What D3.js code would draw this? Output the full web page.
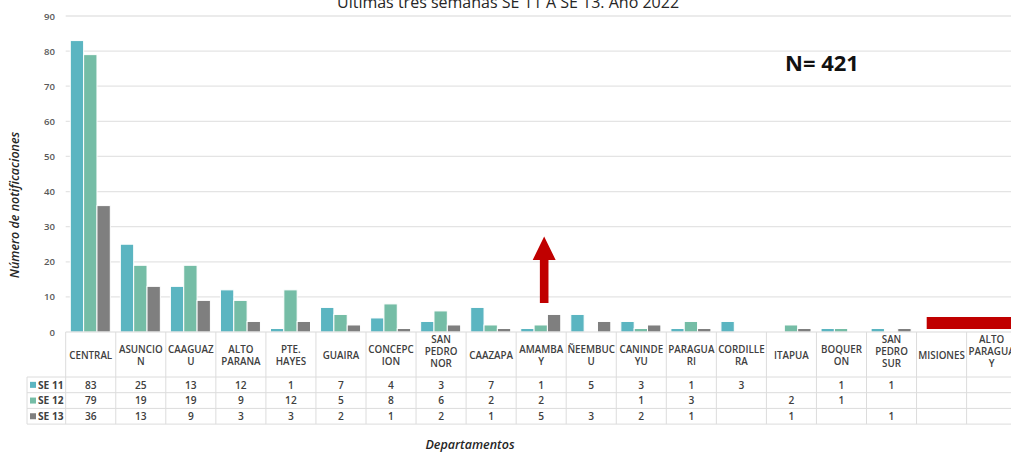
<!DOCTYPE html>
<html>
<head>
<meta charset="utf-8">
<script src="https://cdn.jsdelivr.net/npm/d3@7"></script>
<style>
  html, body { margin: 0; padding: 0; background: #fff; }
  svg { display: block; }
  text { font-family: "Open Sans", "Noto Sans", sans-serif; }
</style>
</head>
<body>
<svg id="chart" width="1011" height="452"></svg>
<script>
// Departamentos (table header labels, line-broken as in the data table)
const departamentos = [
  "CENTRAL", "ASUNCIO\nN", "CAAGUAZ\nU", "ALTO\nPARANA", "PTE.\nHAYES",
  "GUAIRA", "CONCEPC\nION", "SAN\nPEDRO\nNOR", "CAAZAPA", "AMAMBA\nY",
  "ÑEEMBUC\nU", "CANINDE\nYU", "PARAGUA\nRI", "CORDILLE\nRA", "ITAPUA",
  "BOQUER\nON", "SAN\nPEDRO\nSUR", "MISIONES", "ALTO\nPARAGUA\nY"
];
const semanas = ["SE 11", "SE 12", "SE 13"];
// Notifications per department and epidemiological week (null = no notifications)
const se11 = [83, 25, 13, 12, 1, 7, 4, 3, 7, 1, 5, 3, 1, 3, null, 1, 1, null, null];
const se12 = [79, 19, 19, 9, 12, 5, 8, 6, 2, 2, null, 1, 3, null, 2, 1, null, null, null];
const se13 = [36, 13, 9, 3, 3, 2, 1, 2, 1, 5, 3, 2, 1, null, 1, null, 1, null, null];
const yTicks = [0, 10, 20, 30, 40, 50, 60, 70, 80, 90];
const total = 421;

const series = [se11, se12, se13];
const colors = ["#5BB5C1", "#75BDA6", "#7F7F7F"];

const svg = d3.select("#chart");
const W = 1011;

const left = 65.7, colW = 50.05;
const x = d3.scaleBand()
  .domain(d3.range(departamentos.length))
  .range([left, left + colW * departamentos.length])
  .padding(0);
const xSub = d3.scaleBand()
  .domain(semanas)
  .range([4.6, 44.6])
  .padding(0);
const y = d3.scaleLinear().domain([0, 90]).range([332, 16]);

// Title (partly above the visible frame)
svg.append("text")
  .attr("x", 508).attr("y", 8)
  .attr("text-anchor", "middle")
  .attr("font-size", 16)
  .attr("fill", "#262626")
  .text("Últimas tres semanas SE 11 A SE 13. Año 2022");

// Horizontal gridlines
svg.append("g").selectAll("line")
  .data(yTicks.filter(d => d > 0))
  .join("line")
  .attr("x1", left).attr("x2", W)
  .attr("y1", d => y(d)).attr("y2", d => y(d))
  .attr("stroke", "#E4E4E4").attr("stroke-width", 1.3);

// Y axis labels
const yAxis = d3.axisLeft(y).tickValues(yTicks).tickSize(0).tickPadding(0);
const gy = svg.append("g").attr("transform", "translate(55,0)").call(yAxis);
gy.select(".domain").remove();
gy.selectAll("text")
  .attr("font-family", "'Open Sans', sans-serif")
  .attr("font-size", 9.6)
  .attr("font-weight", 600)
  .attr("fill", "#595959");

// Y axis title
svg.append("text")
  .attr("transform", "translate(19,205) rotate(-90)")
  .attr("text-anchor", "middle")
  .attr("font-size", 12.5)
  .attr("font-weight", 600)
  .attr("font-style", "italic")
  .attr("fill", "#262626")
  .text("Número de notificaciones");

// Bars
const barData = [];
departamentos.forEach((d, i) => {
  semanas.forEach((s, j) => {
    if (series[j][i] != null) barData.push({ i, s, j, v: series[j][i] });
  });
});
svg.append("g").selectAll("rect")
  .data(barData)
  .join("rect")
  .attr("x", d => x(d.i) + xSub(d.s))
  .attr("width", xSub.bandwidth())
  .attr("y", d => y(d.v))
  .attr("height", d => y(0) - y(d.v))
  .attr("fill", d => colors[d.j])
  .attr("stroke", "#fff")
  .attr("stroke-width", 1);

// Baseline
svg.append("line")
  .attr("x1", left).attr("x2", W)
  .attr("y1", y(0)).attr("y2", y(0))
  .attr("stroke", "#D9D9D9").attr("stroke-width", 1);

// Data table
const headTop = 333, headBot = 377;
const rowH = 15.7;
const tableBot = headBot + rowH * 3;
const legendLeft = 27;
const grid = svg.append("g").attr("stroke", "#DCDCDC").attr("stroke-width", 1);

// vertical column borders
d3.range(departamentos.length + 1).forEach(k => {
  const xx = left + k * colW;
  grid.append("line").attr("x1", xx).attr("x2", xx)
    .attr("y1", headTop - 1).attr("y2", tableBot);
});
grid.append("line").attr("x1", legendLeft).attr("x2", legendLeft)
  .attr("y1", headBot).attr("y2", tableBot);
// horizontal row borders
[headBot, headBot + rowH, headBot + 2 * rowH, tableBot].forEach(yy => {
  grid.append("line").attr("x1", legendLeft).attr("x2", W)
    .attr("y1", yy).attr("y2", yy);
});

// header labels
const lineH = 12;
const head = svg.append("g");
departamentos.forEach((d, i) => {
  const lines = d.split("\n");
  const cx = x(i) + colW / 2;
  const cy = 355 - (lines.length === 3 ? 4 : 0);
  const t = head.append("text")
    .attr("x", cx)
    .attr("text-anchor", "middle")
    .attr("font-size", 9.8)
    .attr("font-weight", 600)
    .attr("fill", "#404040");
  lines.forEach((ln, k) => {
    t.append("tspan")
      .attr("x", cx)
      .attr("y", cy + (k - (lines.length - 1) / 2) * lineH + 3.5)
      .text(ln);
  });
});

// value rows with legend keys
semanas.forEach((s, j) => {
  const cy = headBot + rowH * j + rowH / 2;
  svg.append("rect")
    .attr("x", 30).attr("y", cy - 3)
    .attr("width", 6).attr("height", 6)
    .attr("fill", colors[j]);
  svg.append("text")
    .attr("x", 38).attr("y", cy + 3.7)
    .attr("font-size", 10.2)
    .attr("font-weight", 700)
    .attr("fill", "#404040")
    .text(s);
  series[j].forEach((v, i) => {
    if (v == null) return;
    svg.append("text")
      .attr("x", x(i) + colW / 2).attr("y", cy + 3.7)
      .attr("text-anchor", "middle")
      .attr("font-size", 10.2)
      .attr("font-weight", 600)
      .attr("fill", "#404040")
      .text(v);
  });
});

// X axis title
svg.append("text")
  .attr("x", 470).attr("y", 449)
  .attr("text-anchor", "middle")
  .attr("font-size", 12.5)
  .attr("font-weight", 600)
  .attr("font-style", "italic")
  .attr("fill", "#262626")
  .text("Departamentos");

// Total annotation
svg.append("text")
  .attr("x", 822).attr("y", 71)
  .attr("text-anchor", "middle")
  .attr("font-family", "'Liberation Sans', Arial, sans-serif")
  .attr("font-size", 22)
  .attr("font-weight", 700)
  .attr("fill", "#111")
  .text("N= " + total);

// Red up arrow over AMAMBAY
const ax = x(9) + colW / 2 + 3;
svg.append("path")
  .attr("d", `M${ax},236.5 L${ax + 11.5},260 L${ax + 4.3},260 L${ax + 4.3},303 L${ax - 4.3},303 L${ax - 4.3},260 L${ax - 11.5},260 Z`)
  .attr("fill", "#C00000");

// Red marker bar over MISIONES / ALTO PARAGUAY
svg.append("rect")
  .attr("x", 926.7).attr("y", 317)
  .attr("width", W - 926.7).attr("height", 12)
  .attr("fill", "#C00000");
</script>
</body>
</html>
